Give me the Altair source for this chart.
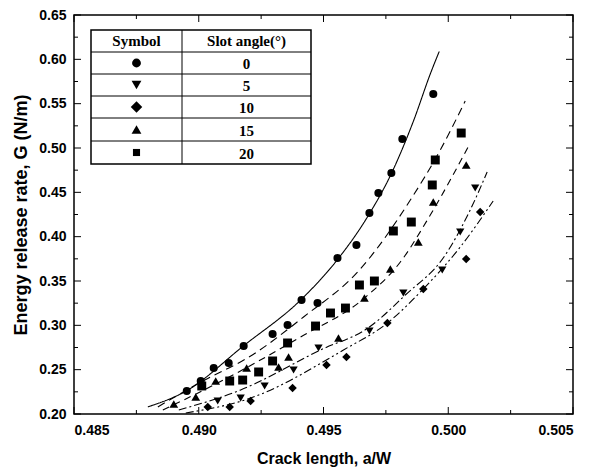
import altair as alt
import pandas as pd

# ---------------- data ----------------
angles = ["0", "5", "10", "15", "20"]
shapes = ["circle", "triangle-down", "diamond", "triangle-up", "square"]
sizes = [65, 80, 110, 80, 42]
dashes = [[1, 0], [8, 3, 2, 3], [8, 3, 2, 3, 2, 3], [7, 5], [8, 5]]

# measured points, 0 deg (circles)
x_0 = [0.48952, 0.49008, 0.4906, 0.4912, 0.4918, 0.49296, 0.49356, 0.49412,
       0.49476, 0.49556, 0.49632, 0.49684, 0.4972, 0.49772, 0.49816, 0.4994]
y_0 = [0.2259, 0.2372, 0.2519, 0.2575, 0.2767, 0.2902, 0.3004, 0.3286,
       0.3252, 0.3759, 0.3906, 0.4267, 0.4492, 0.4718, 0.5101, 0.5609]
# 5 deg (down triangles)
x_5 = [0.49076, 0.49168, 0.49264, 0.4938, 0.4948, 0.49684, 0.4982, 0.49976,
       0.50048, 0.50108]
y_5 = [0.2147, 0.2180, 0.2316, 0.2496, 0.2744, 0.2936, 0.3365, 0.3624,
       0.4053, 0.4549]
# 10 deg (diamonds)
x_10 = [0.49036, 0.49124, 0.49208, 0.49376, 0.49512, 0.49592, 0.49756,
        0.4990, 0.50072, 0.50128]
y_10 = [0.2079, 0.2079, 0.2147, 0.2293, 0.2553, 0.2643, 0.3026, 0.3410,
        0.3748, 0.4278]
# 15 deg (up triangles)
x_15 = [0.4890, 0.48988, 0.49068, 0.49192, 0.4932, 0.4936, 0.4956, 0.49664,
        0.49768, 0.4988, 0.4994, 0.50072]
y_15 = [0.2113, 0.2192, 0.2372, 0.2519, 0.2530, 0.2643, 0.2857, 0.3308,
        0.3635, 0.3940, 0.4391, 0.4808]
# 20 deg (squares)
x_20 = [0.49012, 0.49124, 0.49176, 0.4924, 0.49296, 0.49356, 0.49468,
        0.49528, 0.49588, 0.49644, 0.49704, 0.4978, 0.49852, 0.49936,
        0.49948, 0.50052]
y_20 = [0.2316, 0.2372, 0.2383, 0.2474, 0.2598, 0.2801, 0.2992, 0.3139,
        0.3195, 0.3455, 0.3500, 0.4064, 0.4165, 0.4583, 0.4865, 0.5169]

# fitted curves, sampled along the drawn lines
cx_0 = [0.48796, 0.4895, 0.4918, 0.4941, 0.4955, 0.4968, 0.4977, 0.4986, 0.4993, 0.49964]
cy_0 = [0.208, 0.226, 0.277, 0.329, 0.372, 0.424, 0.470, 0.530, 0.585, 0.609]
cx_5 = [0.4892, 0.49168, 0.49488, 0.49684, 0.49828, 0.49988, 0.50088, 0.50156]
cy_5 = [0.2045, 0.2271, 0.2722, 0.2981, 0.3342, 0.3793, 0.4301, 0.4729]
cx_10 = [0.48948, 0.49208, 0.4958, 0.49756, 0.4990, 0.50048, 0.5018]
cy_10 = [0.2011, 0.2180, 0.2722, 0.3026, 0.3410, 0.3883, 0.4402]
cx_15 = [0.48856, 0.49068, 0.49408, 0.49664, 0.49808, 0.49928, 0.50088]
cy_15 = [0.2045, 0.2338, 0.2868, 0.3308, 0.3714, 0.4244, 0.5056]
cx_20 = [0.48836, 0.49008, 0.49208, 0.4942, 0.49644, 0.49848, 0.49968, 0.50068]
cy_20 = [0.208, 0.236, 0.2654, 0.3094, 0.3624, 0.4413, 0.4977, 0.553]

x_ticks = [0.485, 0.490, 0.495, 0.500, 0.505]
x_minor = [0.4875, 0.4925, 0.4975, 0.5025]
y_ticks = [0.20, 0.25, 0.30, 0.35, 0.40, 0.45, 0.50, 0.55, 0.60, 0.65]
y_minor = [0.225, 0.275, 0.325, 0.375, 0.425, 0.475, 0.525, 0.575, 0.625]

# ---------------- build tables ----------------
pts = pd.concat([
    pd.DataFrame({"x": xs, "y": ys, "angle": a})
    for xs, ys, a in [(x_0, y_0, "0"), (x_5, y_5, "5"), (x_10, y_10, "10"),
                      (x_15, y_15, "15"), (x_20, y_20, "20")]
])
curves = pd.concat([
    pd.DataFrame({"x": xs, "y": ys, "angle": a, "i": range(len(xs))})
    for xs, ys, a in [(cx_0, cy_0, "0"), (cx_5, cy_5, "5"), (cx_10, cy_10, "10"),
                      (cx_15, cy_15, "15"), (cx_20, cy_20, "20")]
])

W, H = 499, 399
FONT = "Liberation Sans"
SERIF = "Liberation Serif"

xscale = alt.Scale(domain=[0.485, 0.505], nice=False, zero=False)
yscale = alt.Scale(domain=[0.20, 0.65], nice=False, zero=False)

xaxis = alt.Axis(values=x_ticks, format=".3f", ticks=False, domain=False, grid=False,
                 labelFont=FONT, labelFontWeight="bold", labelFontSize=14,
                 labelPadding=9, labelColor="black",
                 title="Crack length, a/W", titleFont=FONT, titleFontSize=16,
                 titleFontWeight="bold", titlePadding=13, titleColor="black")
yaxis = alt.Axis(values=y_ticks, format=".2f", ticks=False, domain=False, grid=False,
                 labelFont=FONT, labelFontWeight="bold", labelFontSize=14,
                 labelPadding=8, labelColor="black",
                 title="Energy release rate, G (N/m)", titleFont=FONT, titleFontSize=18,
                 titleFontWeight="bold", titlePadding=8, titleColor="black")

lines = alt.Chart(curves).mark_line(color="black", strokeWidth=1.1,
                                    interpolate="monotone").encode(
    x=alt.X("x:Q", scale=xscale, axis=xaxis),
    y=alt.Y("y:Q", scale=yscale, axis=yaxis),
    detail="angle:N",
    order="i:Q",
    strokeDash=alt.StrokeDash("angle:N", scale=alt.Scale(domain=angles, range=dashes),
                              legend=None),
)

points = alt.Chart(pts).mark_point(filled=True, color="black", opacity=1).encode(
    x=alt.X("x:Q", scale=xscale),
    y=alt.Y("y:Q", scale=yscale),
    shape=alt.Shape("angle:N", scale=alt.Scale(domain=angles, range=shapes), legend=None),
    size=alt.Size("angle:N", scale=alt.Scale(domain=angles, range=sizes), legend=None),
)

# inward ticks on all four sides
def xt(vals, y1, y2):
    return alt.Chart(pd.DataFrame({"v": vals})).mark_rule(color="black", strokeWidth=1).encode(
        x=alt.X("v:Q", scale=xscale), y=alt.value(y1), y2=alt.value(y2))

def yt(vals, x1, x2):
    return alt.Chart(pd.DataFrame({"v": vals})).mark_rule(color="black", strokeWidth=1).encode(
        y=alt.Y("v:Q", scale=yscale), x=alt.value(x1), x2=alt.value(x2))

ticks = [
    xt(x_ticks, H, H - 7), xt(x_minor, H, H - 4),
    xt(x_ticks, 0, 7), xt(x_minor, 0, 4),
    yt(y_ticks, 0, 7), yt(y_minor, 0, 4),
    yt(y_ticks, W, W - 7), yt(y_minor, W, W - 4),
]

# ---------------- legend table ----------------
one = pd.DataFrame({"a": [0]})
TL, TR, TD = 17, 237, 108
row_lines = [15, 37, 59, 81, 103, 126, 149]
table = [
    alt.Chart(one).mark_rect(fill="white", stroke="black", strokeWidth=1.5).encode(
        x=alt.value(TL), x2=alt.value(TR), y=alt.value(row_lines[0]), y2=alt.value(row_lines[-1])),
    alt.Chart(one).mark_rule(color="black", strokeWidth=1).encode(
        x=alt.value(TD), y=alt.value(row_lines[0]), y2=alt.value(row_lines[-1])),
]
for yl in row_lines[1:-1]:
    table.append(alt.Chart(one).mark_rule(color="black", strokeWidth=1).encode(
        x=alt.value(TL), x2=alt.value(TR), y=alt.value(yl)))

cx_sym = (TL + TD) / 2
cx_val = (TD + TR) / 2
table.append(alt.Chart(one).mark_text(font=SERIF, fontSize=15, fontWeight="bold",
                                      color="black", text="Symbol").encode(
    x=alt.value(cx_sym), y=alt.value((row_lines[0] + row_lines[1]) / 2)))
table.append(alt.Chart(one).mark_text(font=SERIF, fontSize=15, fontWeight="bold",
                                      color="black", text="Slot  angle(°)").encode(
    x=alt.value(cx_val), y=alt.value((row_lines[0] + row_lines[1]) / 2)))
for k, (a, s, sz) in enumerate(zip(angles, shapes, sizes)):
    yc = (row_lines[k + 1] + row_lines[k + 2]) / 2
    table.append(alt.Chart(one).mark_point(shape=s, filled=True, color="black",
                                           opacity=1, size=sz * 1.2).encode(
        x=alt.value(cx_sym), y=alt.value(yc)))
    table.append(alt.Chart(one).mark_text(font=SERIF, fontSize=15, fontWeight="bold",
                                          color="black", text=a).encode(
        x=alt.value(cx_val), y=alt.value(yc + 1)))

chart = alt.layer(lines, points, *ticks, *table).properties(
    width=W, height=H,
    autosize=alt.AutoSizeParams(type="none"),
    padding={"left": 74, "top": 15, "right": 20, "bottom": 58},
    background="white",
).configure_view(stroke="black", strokeWidth=1.5)

chart.save("out.html", embed_options={"renderer": "svg", "actions": False})
